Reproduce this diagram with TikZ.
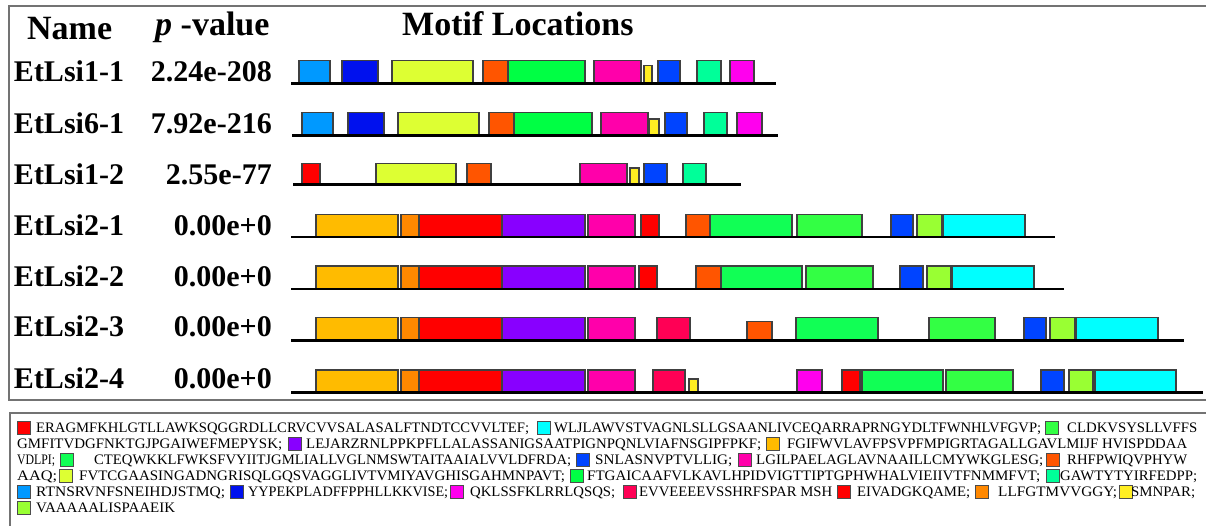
\documentclass[tikz,border=0pt]{standalone}
\usepackage{fontspec}
\usepackage{graphicx}
\setmainfont{Liberation Serif}
\definecolor{clblue}{HTML}{0099FF}
\definecolor{cdblue}{HTML}{0011EE}
\definecolor{cygreen}{HTML}{DDFF33}
\definecolor{cored}{HTML}{FF5500}
\definecolor{cgreen}{HTML}{00FF44}
\definecolor{cgreenA}{HTML}{11FF55}
\definecolor{cgreenB}{HTML}{33FF44}
\definecolor{cpink}{HTML}{FF00AA}
\definecolor{cyellow}{HTML}{FFEE22}
\definecolor{cblue}{HTML}{0044FF}
\definecolor{caqua}{HTML}{00FF99}
\definecolor{cmagenta}{HTML}{FF00EE}
\definecolor{cgold}{HTML}{FFBB00}
\definecolor{corange}{HTML}{FF8800}
\definecolor{cred}{HTML}{FF0000}
\definecolor{cpurple}{HTML}{8800FF}
\definecolor{clime}{HTML}{99FF33}
\definecolor{ccyan}{HTML}{00FFFF}
\definecolor{ccrimson}{HTML}{FF0055}
\newcommand\lsqr[3]{\draw[lsq, fill=#3] (#1,#2-11) rectangle ++(13,12.5);}
\newcommand\ltx[5]{\node[ltxt] (#1) at (#2,#3) {\resizebox{#4pt}{\height}{#5}};}
\begin{document}
\begin{tikzpicture}[x=1pt,y=-1pt,
  mbox/.style={draw=black!75, line width=1.1pt},
  axisline/.style={line width=2.8pt, black},
  lsq/.style={draw=black!70, line width=0.9pt},
  ltxt/.style={anchor=base west, inner sep=0pt, font=\fontsize{14.5}{16}\selectfont},
  hdr/.style={anchor=base west, inner sep=0pt, font=\fontsize{34}{36}\selectfont\bfseries},
  rname/.style={anchor=base, inner sep=0pt, font=\fontsize{30}{32}\selectfont\bfseries},
  pval/.style={anchor=base east, inner sep=0pt, font=\fontsize{30}{32}\selectfont\bfseries},
  frame/.style={draw=black!55, line width=1.5pt}]
\useasboundingbox (0,0) rectangle (1206,525);
% frames
\draw[frame] (9,6) rectangle (1216,400);
\draw[frame] (10,413) rectangle (1216,532);
% headers
\node[hdr] (hname) at (27,39) {Name};
\node[hdr] (hpval) at (155,35) {\textit{p} -value};
\node[hdr] (hmotif) at (402,35) {Motif Locations};
% row names and p-values
\foreach \n/\p/\y [count=\i] in {EtLsi1-1/2.24e-208/81.7, EtLsi6-1/7.92e-216/133.3, EtLsi1-2/2.55e-77/184.3, EtLsi2-1/0.00e+0/235, EtLsi2-2/0.00e+0/286.7, EtLsi2-3/0.00e+0/336.7, EtLsi2-4/0.00e+0/388}{
  \node[rname] (name\i) at (69,\y) {\n};
  \node[pval] (pv\i) at (272,\y) {\p};
}
% row 1
\foreach \a/\b/\t/\c in {299/330/60.7/clblue, 342/378/60.7/cdblue, 392/473/60.7/cygreen, 483/508/60.7/cored, 508/585/60.7/cgreen, 594/641/60.7/cpink, 644/652/65.3/cyellow, 658/680/60.7/cblue, 697/721/60.7/caqua, 730/754/60.7/cmagenta}
  \draw[mbox, fill=\c] (\a,\t) rectangle (\b,83.7);
\draw[axisline] (291,83.7) -- (776,83.7);
% row 2
\foreach \a/\b/\t/\c in {302/333/112.3/clblue, 348/384/112.3/cdblue, 398/479/112.3/cygreen, 489/514/112.3/cored, 514/592/112.3/cgreen, 601/648/112.3/cpink, 649/659/119/cyellow, 665/687/112.3/cblue, 704/727/112.3/caqua, 737/762/112.3/cmagenta}
  \draw[mbox, fill=\c] (\a,\t) rectangle (\b,135.7);
\draw[axisline] (292,135.7) -- (778,135.7);
% row 3
\foreach \a/\b/\t/\c in {302/320/163.7/cred, 376/456/163.7/cygreen, 467/491/163.7/cored, 580/627/163.7/cpink, 630/639/168/cyellow, 644/667/163.7/cblue, 683/706/163.7/caqua}
  \draw[mbox, fill=\c] (\a,\t) rectangle (\b,184.3);
\draw[axisline] (293,184.3) -- (741,184.3);
% row 4
\foreach \a/\b/\t/\c in {316/398/214.3/cgold, 401/419/214.3/corange, 419/502/214.3/cred, 502/585/214.3/cpurple, 588/635/214.3/cpink, 641/659/214.3/cred, 686/710/214.3/cored, 710/792/214.3/cgreenA, 797/862/214.3/cgreenB, 891/913/214.3/cblue, 917/942/214.3/clime, 943/1025/214.3/ccyan}
  \draw[mbox, fill=\c] (\a,\t) rectangle (\b,237);
\draw[axisline] (291,237) -- (1055,237);
% row 5
\foreach \a/\b/\t/\c in {316/398/266/cgold, 401/419/266/corange, 419/502/266/cred, 502/585/266/cpurple, 588/635/266/cpink, 639/657/266/cred, 696/721/266/cored, 721/802/266/cgreenA, 806/873/266/cgreenB, 900/923/266/cblue, 927/951/266/clime, 952/1034/266/ccyan}
  \draw[mbox, fill=\c] (\a,\t) rectangle (\b,289);
\draw[axisline] (291,289) -- (1064,289);
% row 6
\foreach \a/\b/\t/\c in {316/398/317.7/cgold, 401/419/317.7/corange, 419/502/317.7/cred, 502/585/317.7/cpurple, 588/635/317.7/cpink, 657/690/317.7/ccrimson, 747/772/321.7/cored, 796/878/317.7/cgreenA, 929/995/317.7/cgreenB, 1024/1046/317.7/cblue, 1050/1075/317.7/clime, 1076/1158/317.7/ccyan}
  \draw[mbox, fill=\c] (\a,\t) rectangle (\b,340.7);
\draw[axisline] (291,340.7) -- (1184,340.7);
% row 7
\foreach \a/\b/\t/\c in {316/398/370/cgold, 401/419/370/corange, 419/502/370/cred, 502/585/370/cpurple, 588/635/370/cpink, 653/685/370/ccrimson, 689/698/379/cyellow, 797/822/370/cmagenta, 842/860/370/cred, 862/943/370/cgreenA, 946/1013/370/cgreenB, 1041/1064/370/cblue, 1069/1093/370/clime, 1095/1176/370/ccyan}
  \draw[mbox, fill=\c] (\a,\t) rectangle (\b,392.3);
\draw[axisline] (291,392.3) -- (1203,392.3);
% legend line 1
\lsqr{17}{432.5}{cred}
\ltx{t1a}{36}{432.5}{493}{ERAGMFKHLGTLLAWKSQGGRDLLCRVCVVSALASALFTNDTCCVVLTEF;}
\lsqr{537}{432.5}{ccyan}
\ltx{t1b}{554}{432.5}{487}{WLJLAWVSTVAGNLSLLGSAANLIVCEQARRAPRNGYDLTFWNHLVFGVP;}
\lsqr{1045}{432.5}{cgreenB}
\ltx{t1c}{1067}{432.5}{130}{CLDKVSYSLLVFFS}
% legend line 2
\ltx{t2a}{17}{448.5}{265}{GMFITVDGFNKTGJPGAIWEFMEPYSK;}
\lsqr{288}{448.5}{cpurple}
\ltx{t2b}{306}{448.5}{455}{LEJARZRNLPPKPFLLALASSANIGSAATPIGNPQNLVIAFNSGIPFPKF;}
\lsqr{766}{448.5}{cgold}
\ltx{t2c}{787}{448.5}{400}{FGIFWVLAVFPSVPFMPIGRTAGALLGAVLMIJF HVISPDDAA}
% legend line 3
\ltx{t3a}{17}{464.5}{38}{VDLPI;}
\lsqr{60}{464.5}{cgreenA}
\ltx{t3b}{94}{464.5}{477}{CTEQWKKLFWKSFVYIITJGMLIALLVGLNMSWTAITAAIALVVLDFRDA;}
\lsqr{576}{464.5}{cblue}
\ltx{t3c}{595}{464.5}{137}{SNLASNVPTVLLIG;}
\lsqr{738}{464.5}{cpink}
\ltx{t3d}{756}{464.5}{287}{LGILPAELAGLAVNAAILLCMYWKGLESG;}
\lsqr{1046}{464.5}{cored}
\ltx{t3e}{1067}{464.5}{120}{RHFPWIQVPHYW}
% legend line 4
\ltx{t4a}{17}{480.5}{40}{AAQ;}
\lsqr{59}{480.5}{cygreen}
\ltx{t4b}{79}{480.5}{486}{FVTCGAASINGADNGRISQLGQSVAGGLIVTVMIYAVGHISGAHMNPAVT;}
\lsqr{570}{480.5}{cgreen}
\ltx{t4c}{587}{480.5}{453}{FTGAICAAFVLKAVLHPIDVIGTTIPTGPHWHALVIEIIVTFNMMFVT;}
\lsqr{1046}{480.5}{caqua}
\ltx{t4d}{1060}{480.5}{137}{GAWTYTYIRFEDPP;}
% legend line 5
\lsqr{17}{496.5}{clblue}
\ltx{t5a}{36}{496.5}{189}{RTNSRVNFSNEIHDJSTMQ;}
\lsqr{230}{496.5}{cdblue}
\ltx{t5b}{248}{496.5}{200}{YYPEKPLADFFPPHLLKKVISE;}
\lsqr{450}{496.5}{cmagenta}
\ltx{t5c}{470}{496.5}{145}{QKLSSFKLRRLQSQS;}
\lsqr{623}{496.5}{ccrimson}
\ltx{t5d}{639}{496.5}{193}{EVVEEEEVSSHRFSPAR MSH}
\lsqr{837}{496.5}{cred}
\ltx{t5e}{857}{496.5}{113}{EIVADGKQAME;}
\lsqr{975}{496.5}{corange}
\ltx{t5f}{998}{496.5}{119}{LLFGTMVVGGY;}
\lsqr{1119}{496.5}{cyellow}
\ltx{t5g}{1131}{496.5}{64}{SMNPAR;}
% legend line 6
\lsqr{17}{512.5}{clime}
\ltx{t6a}{36}{512.5}{139}{VAAAAALISPAAEIK}
\end{tikzpicture}
\end{document}
